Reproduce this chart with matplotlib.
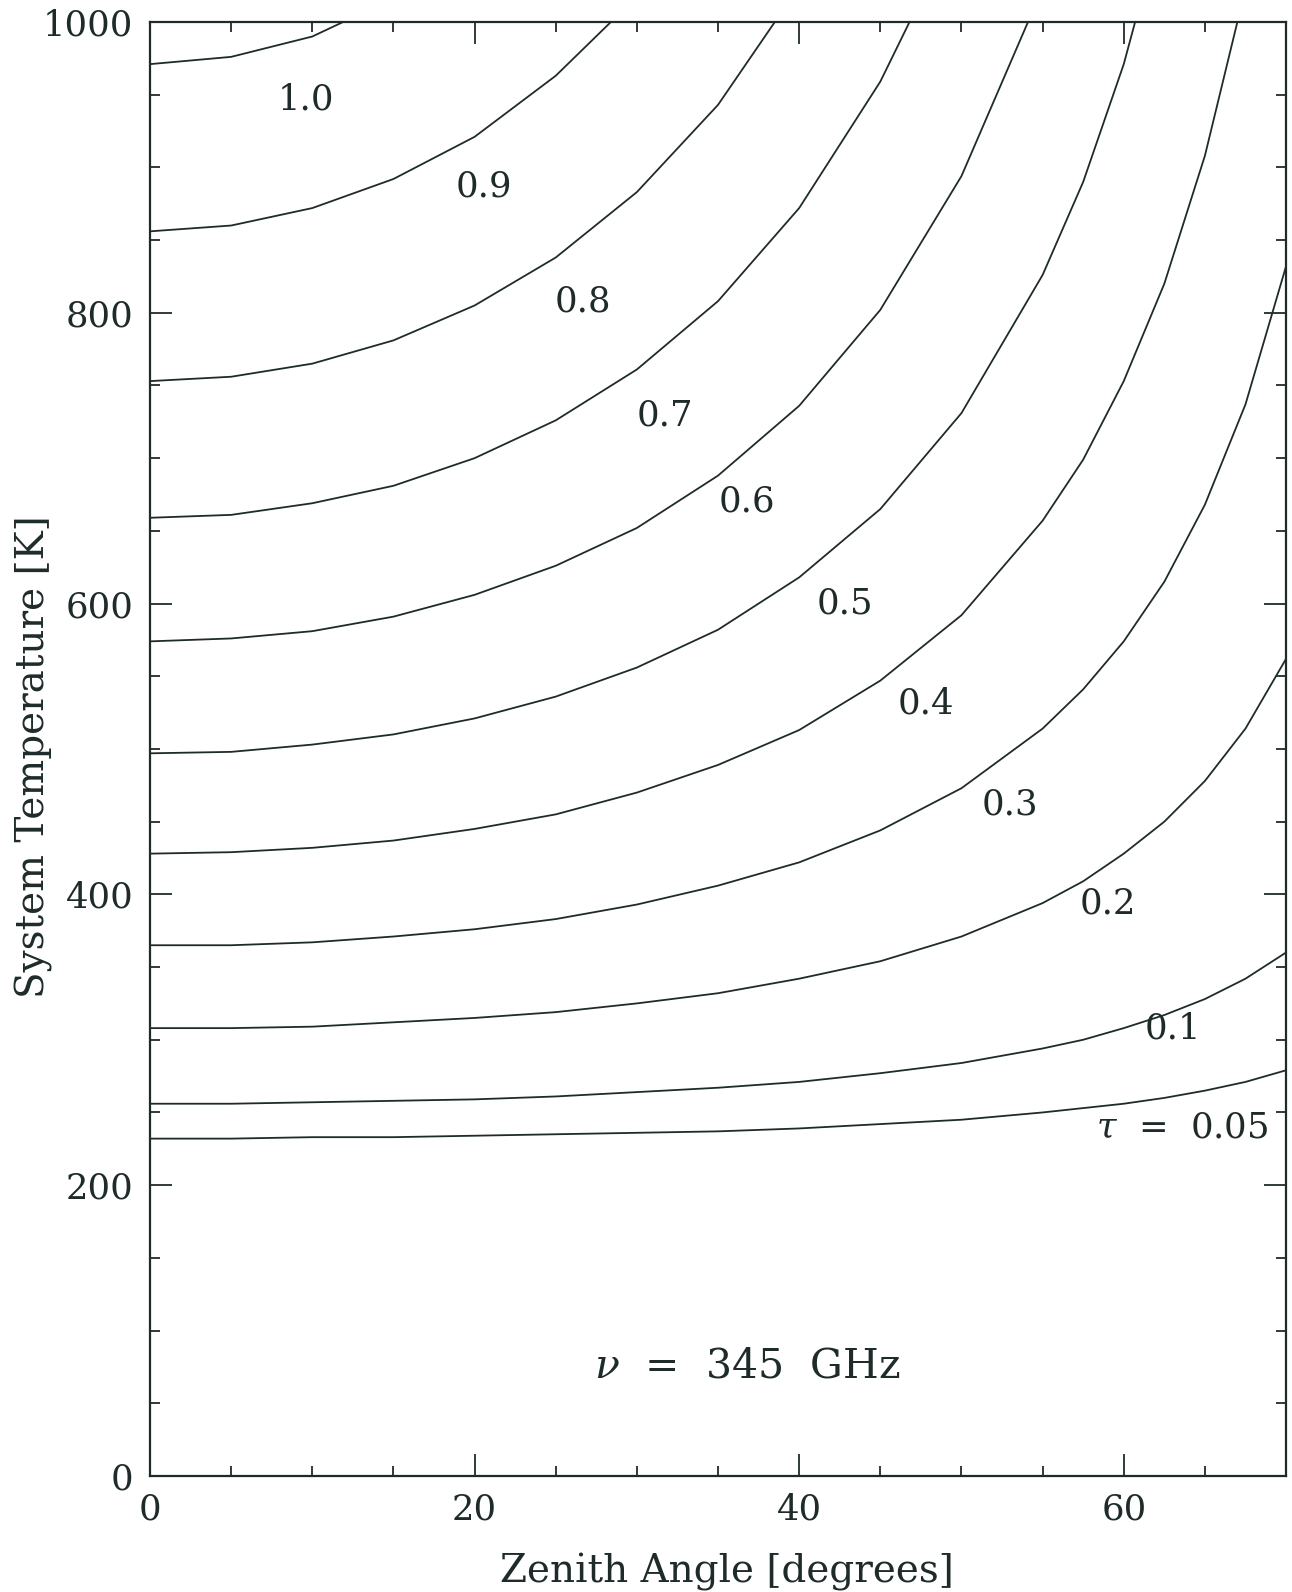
import matplotlib
matplotlib.use('Agg')
import matplotlib.pyplot as plt
from matplotlib.ticker import MultipleLocator

# ── Data ───────────────────────────────────────────────────────────────────
# zenith angles (deg) at which the curves were sampled
ZENITH = [0, 5, 10, 15, 20, 25, 30, 35, 40, 45, 50, 55,
          57.5, 60, 62.5, 65, 67.5, 70]

TAU_LABELS = ["0.05", "0.1", "0.2", "0.3", "0.4", "0.5",
              "0.6", "0.7", "0.8", "0.9", "1.0"]

# system temperature [K]; curves stop where they leave the top of the frame
T_005 = [232, 232, 233, 233, 234, 235, 236, 237, 239, 242, 245, 250,
         253, 256, 260, 265, 271, 279]
T_01 = [256, 256, 257, 258, 259, 261, 264, 267, 271, 277, 284, 294,
        300, 308, 317, 328, 342, 360]
T_02 = [308, 308, 309, 312, 315, 319, 325, 332, 342, 354, 371, 394,
        409, 428, 450, 478, 514, 562]
T_03 = [365, 365, 367, 371, 376, 383, 393, 406, 422, 444, 473, 514,
        541, 574, 615, 668, 737, 832]
T_04 = [428, 429, 432, 437, 445, 455, 470, 489, 513, 547, 592, 657,
        699, 753, 820, 908]
T_05 = [497, 498, 503, 510, 521, 536, 556, 582, 618, 665, 731, 826,
        890, 971]
T_06 = [574, 576, 581, 591, 606, 626, 652, 688, 736, 802, 894]
T_07 = [659, 661, 669, 681, 700, 726, 761, 808, 872, 959]
T_08 = [753, 756, 765, 781, 805, 838, 883, 943]
T_09 = [856, 860, 872, 892, 921, 963]
T_10 = [971, 976, 990]

# zenith angle where each curve meets T = 1000 K (None: ends at right edge)
TOP_EXIT = [None, None, None, None, 67.0, 60.7, 54.1, 46.8, 38.5, 28.4, 11.9]

# label positions (zenith angle, T)
LABEL_Z = [63.6, 63.0, 59.0, 53.0, 47.8, 42.8, 36.8, 31.7, 26.7, 20.6, 9.6]
LABEL_T = [239, 308, 394, 462, 531, 600, 670, 729, 808, 887, 947]

CURVES = [T_005, T_01, T_02, T_03, T_04, T_05, T_06, T_07, T_08, T_09, T_10]

INK = '#1f2b2b'

plt.rcParams['font.family'] = ['DejaVu Serif']
plt.rcParams['mathtext.fontset'] = 'dejavuserif'

fig = plt.figure(figsize=(12.92, 15.92), dpi=100)
ax = fig.add_axes([0.1161, 0.0729, 0.8793, 0.9133])

for tvals, exit_z in zip(CURVES, TOP_EXIT):
    zs = list(ZENITH[:len(tvals)])
    ts = list(tvals)
    if exit_z is not None:
        zs.append(exit_z)
        ts.append(1000)
    ax.plot(zs, ts, color=INK, lw=1.3)

for lab, z, t in zip(TAU_LABELS, LABEL_Z, LABEL_T):
    text = r'$\tau$  =  0.05' if lab == "0.05" else lab
    ax.text(z, t, text, ha='center', va='center', fontsize=25.5, color=INK)

ax.text(36.8, 75, r'$\nu$  =  345  GHz', ha='center', va='center',
        fontsize=29.5, color=INK)

ax.set_xlim(0, 70)
ax.set_ylim(0, 1000)
ax.xaxis.set_major_locator(MultipleLocator(20))
ax.xaxis.set_minor_locator(MultipleLocator(5))
ax.yaxis.set_major_locator(MultipleLocator(200))
ax.yaxis.set_minor_locator(MultipleLocator(50))
ax.tick_params(which='both', direction='in', top=True, right=True,
               colors=INK, labelsize=25.5, width=1.3)
ax.tick_params(which='major', length=16, pad=12)
ax.tick_params(which='minor', length=7)
for sp in ax.spines.values():
    sp.set_color(INK)
    sp.set_linewidth(1.6)

ax.set_xlabel('Zenith Angle [degrees]', fontsize=28, color=INK)
ax.set_ylabel('System Temperature [K]', fontsize=28, color=INK)
ax.xaxis.set_label_coords(0.508, -0.053)
ax.yaxis.set_label_coords(-0.085, 0.495)

plt.savefig('out.png', dpi=100)
plt.close()
